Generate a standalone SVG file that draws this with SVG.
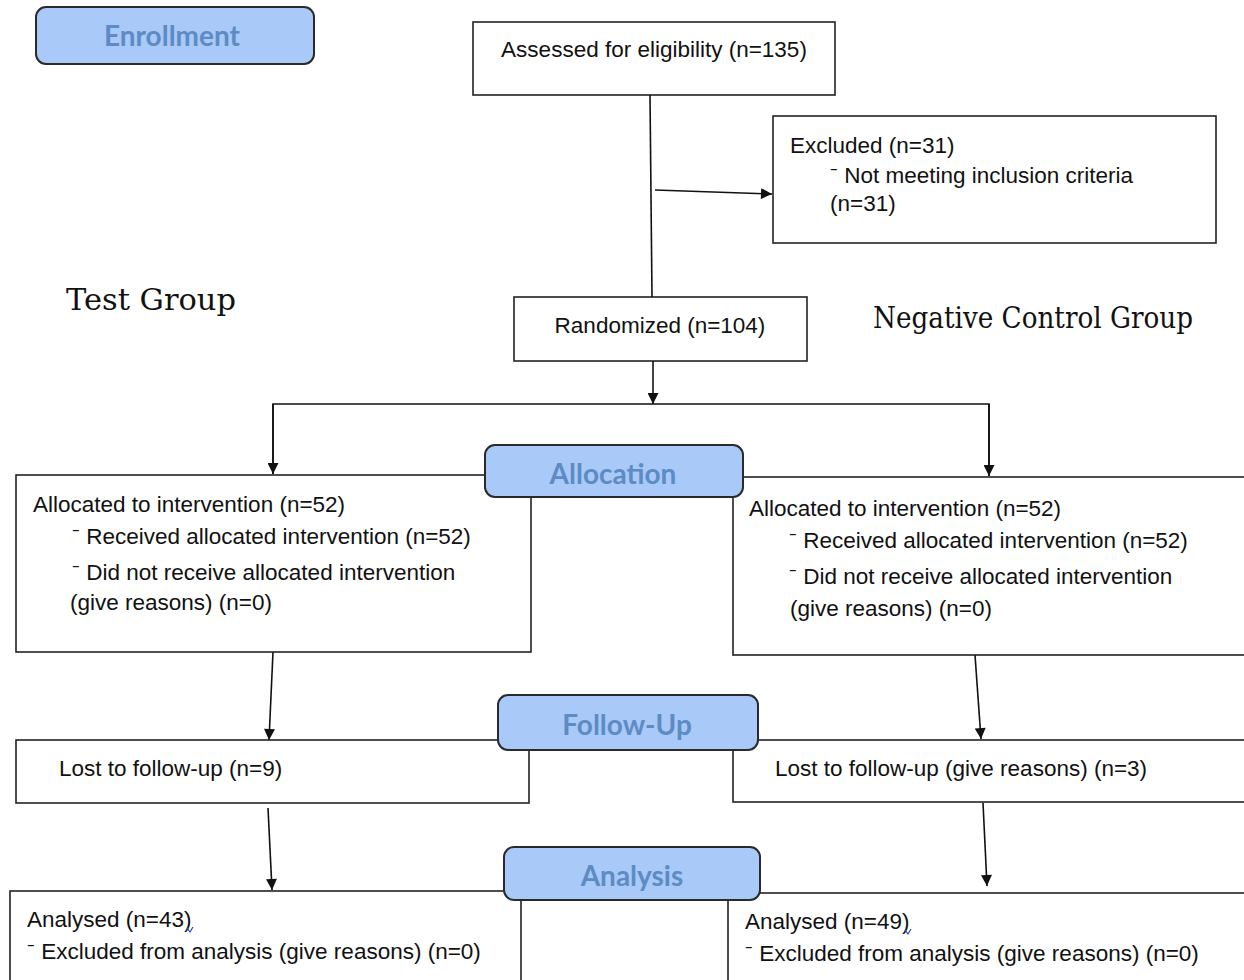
<svg xmlns="http://www.w3.org/2000/svg" width="1244" height="980" viewBox="0 0 1244 980">
<defs>
<marker id="ah" viewBox="0 0 10 10" refX="10" refY="5" markerWidth="12" markerHeight="11" markerUnits="userSpaceOnUse" orient="auto">
<path d="M0,0 L10,5 L0,10 Z" fill="#111"/>
</marker>
<style>
.box{fill:#fff;stroke:#222;stroke-width:1.6}
.hdr{fill:#a9c9f9;stroke:#2a2a2a;stroke-width:2}
.ht{font-family:Lato,"Open Sans",sans-serif;font-weight:bold;font-size:28px;fill:#5d8bc3;text-anchor:middle}
.t{font-family:"Liberation Sans",Arial,sans-serif;font-size:22.5px;fill:#111}
.g{font-family:"DejaVu Serif","Liberation Serif",serif;font-size:29px;fill:#111}
.c{fill:none;stroke:#111;stroke-width:1.6}
</style>
</defs>
<rect width="1244" height="980" fill="#fff"/>

<g id="enrollment"><rect class="hdr" x="36" y="7" width="278" height="57" rx="10"/><text class="ht" x="172" y="46">Enrollment</text></g>

<g id="assessed"><rect class="box" x="473" y="22" width="362" height="73"/><text class="t" x="654" y="57" text-anchor="middle">Assessed for eligibility (n=135)</text></g>

<g id="excluded"><rect class="box" x="773" y="116" width="443" height="127"/>
<text class="t" x="790" y="153">Excluded (n=31)</text>
<text class="t" x="830" y="183">⁻  Not meeting inclusion criteria</text>
<text class="t" x="830" y="211">(n=31)</text></g>

<g id="test-group"><text class="g" x="66" y="310" textLength="170" lengthAdjust="spacingAndGlyphs">Test Group</text></g>
<g id="control-group"><text class="g" x="873" y="328" textLength="320" lengthAdjust="spacingAndGlyphs">Negative Control Group</text></g>

<g id="randomized"><rect class="box" x="514" y="297" width="293" height="64"/><text class="t" x="660" y="333" text-anchor="middle">Randomized (n=104)</text></g>

<g id="connectors">
<line class="c" x1="650" y1="95" x2="652" y2="297"/>
<line class="c" x1="655" y1="190" x2="772" y2="194" marker-end="url(#ah)"/>
<line class="c" x1="653" y1="361" x2="653" y2="404" marker-end="url(#ah)"/>
<polyline class="c" points="273,474 273,404 989,404 989,476"/>
<line class="c" x1="273" y1="404" x2="273" y2="474" marker-end="url(#ah)"/>
<line class="c" x1="989" y1="404" x2="989" y2="476" marker-end="url(#ah)"/>
<line class="c" x1="273" y1="652" x2="269" y2="740" marker-end="url(#ah)"/>
<line class="c" x1="975" y1="655" x2="981" y2="739" marker-end="url(#ah)"/>
<line class="c" x1="268" y1="808" x2="272" y2="890" marker-end="url(#ah)"/>
<line class="c" x1="983" y1="803" x2="987" y2="886" marker-end="url(#ah)"/>
</g>

<g id="alloc-left"><rect class="box" x="16" y="475" width="515" height="177"/>
<text class="t" x="33" y="512">Allocated to intervention (n=52)</text>
<text class="t" x="72" y="544">⁻ Received allocated intervention (n=52)</text>
<text class="t" x="72" y="580">⁻ Did not receive allocated intervention</text>
<text class="t" x="70" y="610">(give reasons) (n=0)</text></g>

<g id="alloc-right"><rect class="box" x="733" y="477" width="520" height="178"/>
<text class="t" x="749" y="516">Allocated to intervention (n=52)</text>
<text class="t" x="789" y="548">⁻ Received allocated intervention (n=52)</text>
<text class="t" x="789" y="584">⁻ Did not receive allocated intervention</text>
<text class="t" x="790" y="616">(give reasons) (n=0)</text></g>

<g id="allocation"><rect class="hdr" x="485" y="445" width="258" height="52" rx="10"/><text class="ht" x="613" y="484">Allocation</text></g>

<g id="lost-left"><rect class="box" x="16" y="740" width="513" height="63"/><text class="t" x="59" y="776">Lost to follow-up (n=9)</text></g>
<g id="lost-right"><rect class="box" x="733" y="740" width="520" height="62"/><text class="t" x="775" y="776">Lost to follow-up (give reasons) (n=3)</text></g>

<g id="follow-up"><rect class="hdr" x="498" y="695" width="260" height="55" rx="10"/><text class="ht" x="627" y="735">Follow-Up</text></g>

<g id="analysed-left"><rect class="box" x="10" y="891" width="511" height="100"/>
<text class="t" x="27" y="927">Analysed (n=43)</text>
<path d="M187,928 l3,4 l3,-5" fill="none" stroke="#2244dd" stroke-width="1.2"/>
<text class="t" x="27" y="959">⁻ Excluded from analysis (give reasons) (n=0)</text></g>

<g id="analysed-right"><rect class="box" x="728" y="893" width="525" height="100"/>
<text class="t" x="745" y="929">Analysed (n=49)</text>
<path d="M905,930 l3,4 l3,-5" fill="none" stroke="#2244dd" stroke-width="1.2"/>
<text class="t" x="745" y="961">⁻ Excluded from analysis (give reasons) (n=0)</text></g>

<g id="analysis"><rect class="hdr" x="504" y="847" width="256" height="53" rx="10"/><text class="ht" x="632" y="886">Analysis</text></g>
</svg>
